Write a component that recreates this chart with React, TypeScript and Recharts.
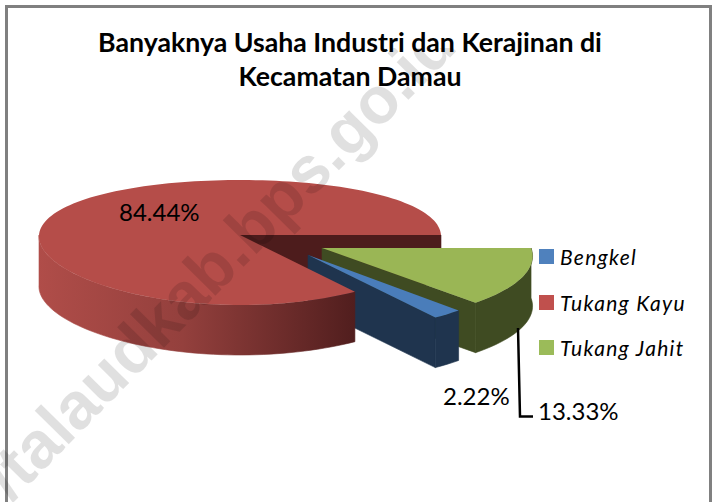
import React from 'react';
import { PieChart, Pie, Legend } from 'recharts';

const categories = ['Bengkel', 'Tukang Kayu', 'Tukang Jahit'];
const shares = [2.22, 84.44, 13.33];
const colors = ['#4f81bd', '#c0504d', '#9bbb59'];
const titleLines = ['Banyaknya Usaha Industri dan Kerajinan di', 'Kecamatan Damau'];
const watermark = '//talaudkab.bps.go.id';
const data = categories.map((name, i) => ({ name, value: shares[i], fill: colors[i] }));

const W = 714;
const H = 502;
const FONT = 'Lato, Carlito, sans-serif';
const DEPTH = 50;
const K = 0.12;
const look = [
  { dx: 68, dy: 20, r: 1.02, ry: 68, xk: 1, top: '#4a7dba', wall: '#1f344e' },
  { dx: 0, dy: 0, r: 1, ry: 61.6, xk: 0.2, top: '#b54d49', wall: 'url(#redWall)', cut: '#4d1c1c' },
  { dx: 82, dy: 13, r: 1.04, ry: 67, xk: 1, top: '#9ab655', wall: '#3f4b22' },
];

function pointAt(p: any, deg: number): [number, number] {
  const l = look[p.index];
  const u = Math.cos((deg * Math.PI) / 180);
  const v = Math.sin((deg * Math.PI) / 180);
  const s = 1 / (1 + K * v);
  const sx = 1 + (s - 1) * l.xk;
  return [p.cx + l.dx + p.outerRadius * l.r * u * sx, p.cy + l.dy - l.ry * v * s];
}

function arcAngles(from: number, to: number): number[] {
  const n = Math.max(2, Math.ceil(Math.abs(to - from) / 2));
  const out: number[] = [];
  for (let i = 0; i <= n; i++) out.push(from + ((to - from) * i) / n);
  return out;
}

const toPath = (pts: [number, number][]) =>
  'M' + pts.map((q) => `${q[0].toFixed(2)},${q[1].toFixed(2)}`).join('L') + 'Z';

function topFace(p: any) {
  const l = look[p.index];
  const apex: [number, number] = [p.cx + l.dx, p.cy + l.dy];
  return <path d={toPath([apex, ...arcAngles(p.startAngle, p.endAngle).map((a) => pointAt(p, a))])} fill={l.top} />;
}

function arcWall(p: any) {
  const l = look[p.index];
  // only the front half of the rim faces the viewer
  const turn = p.startAngle <= -360 ? 360 : 0;
  const from = Math.max(p.startAngle + turn, -180);
  const to = Math.max(p.endAngle + turn, -180);
  const rim = arcAngles(from, to).map((a) => pointAt(p, a));
  const low = rim.map((q) => [q[0], q[1] + DEPTH] as [number, number]).reverse();
  return <path d={toPath([...rim, ...low])} fill={l.wall} stroke={l.wall} strokeWidth={0.6} />;
}

function cutFace(p: any) {
  const l = look[p.index];
  const a: [number, number] = [p.cx + l.dx, p.cy + l.dy];
  const b = pointAt(p, p.endAngle);
  const fill = (l as any).cut || l.wall;
  return <path d={toPath([a, b, [b[0], b[1] + DEPTH], [a[0], a[1] + DEPTH]])} fill={fill} stroke={fill} strokeWidth={0.6} />;
}

const only = (names: number[], draw: (p: any) => React.ReactNode) => (p: any) =>
  names.includes(p.index) ? <g>{draw(p)}</g> : <g />;

const labelSpots = [
  { x: 443, y: 405 },
  { x: 119, y: 221 },
  { x: 538, y: 420 },
];

function renderLabel(p: any) {
  const i = p.index;
  return (
    <g key={i}>
      {i === 0 && (
        <g clipPath="url(#markClip)">
          <text
            transform="translate(-1.5,515.5) rotate(-45.4)"
            fontFamily="Liberation Sans, Arial, sans-serif"
            fontWeight="bold"
            fontSize={66}
            fill="rgba(0,0,0,0.12)"
          >
            {watermark}
          </text>
        </g>
      )}
      {i === 2 && <path d="M518,328 L520,416.5 L533,416.5" fill="none" stroke="#000" strokeWidth={2.5} />}
      <text x={labelSpots[i].x} y={labelSpots[i].y} fontFamily={FONT} fontSize={24} fill="#000">
        {shares[i].toFixed(2)}%
      </text>
    </g>
  );
}

function LegendBox() {
  return (
    <div>
      {categories.map((name, i) => (
        <div key={name} style={{ display: 'flex', alignItems: 'center', height: 45.5 }}>
          <span style={{ width: 15, height: 15, background: colors[i], marginRight: 6, display: 'inline-block' }} />
          <span style={{ fontFamily: FONT, fontStyle: 'italic', fontSize: 21, letterSpacing: 1.3, color: '#000' }}>{name}</span>
        </div>
      ))}
    </div>
  );
}

const pieBase = {
  data,
  dataKey: 'value',
  nameKey: 'name',
  cx: 240,
  cy: 235,
  outerRadius: 201,
  startAngle: -48,
  endAngle: -408,
  stroke: 'none',
  isAnimationActive: false,
  labelLine: false,
};

export default function App() {
  return (
    <div style={{ position: 'absolute', left: 0, top: 0, width: W, height: H, background: '#fff', overflow: 'hidden' }}>
      <PieChart width={W} height={H} margin={{ top: 0, right: 0, bottom: 0, left: 0 }}>
        <defs>
          <linearGradient id="redWall" gradientUnits="userSpaceOnUse" x1="37" y1="0" x2="360" y2="0">
            <stop offset="0" stopColor="#b04d49" />
            <stop offset="0.45" stopColor="#94403d" />
            <stop offset="1" stopColor="#4f1d1d" />
          </linearGradient>
          <clipPath id="markClip">
            <rect x={0} y={48} width={W} height={H} />
          </clipPath>
        </defs>
        <rect x={6.5} y={6.5} width={704} height={520} fill="#fff" stroke="#808080" strokeWidth={3} />
        <Pie {...pieBase} legendType="none" shape={only([1], cutFace)} />
        <Pie {...pieBase} legendType="none" shape={only([2], (p) => <>{cutFace(p)}{arcWall(p)}</>)} />
        <Pie {...pieBase} legendType="none" shape={only([0], (p) => <>{cutFace(p)}{arcWall(p)}</>)} />
        <Pie {...pieBase} legendType="none" shape={only([1], (p) => <>{arcWall(p)}{topFace(p)}</>)} />
        <Pie {...pieBase} shape={only([0, 2], topFace)} label={renderLabel} />
        <Legend
          content={<LegendBox />}
          layout="vertical"
          align="right"
          verticalAlign="top"
          wrapperStyle={{ position: 'absolute', left: 539, top: 234, width: 170 }}
        />
        {titleLines.map((t, i) => (
          <text key={t} x={350} y={52 + i * 34} textAnchor="middle" fontFamily={FONT} fontWeight="bold" fontSize={26.7} fill="#000">
            {t}
          </text>
        ))}
      </PieChart>
    </div>
  );
}
